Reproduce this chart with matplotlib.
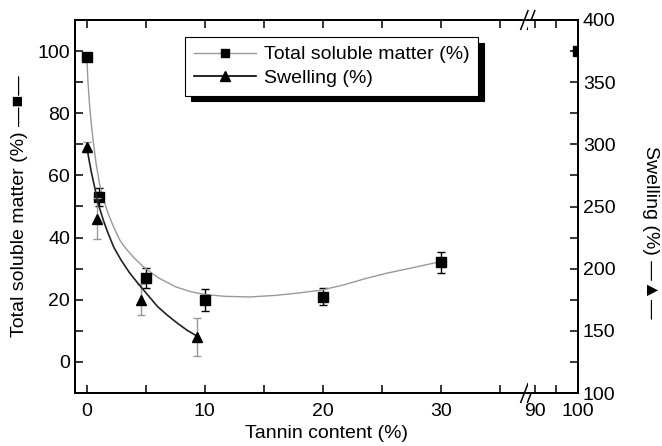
import numpy as np
import matplotlib
matplotlib.use('Agg')
import matplotlib.pyplot as plt
from matplotlib.ticker import MultipleLocator, FixedLocator

plt.rcParams['font.family'] = ['Liberation Sans', 'DejaVu Sans']
plt.rcParams['font.size'] = 14

# total soluble matter (%), left axis
tsm_x = [0, 1, 5, 10, 20, 30, 100]
tsm_y = [98, 53, 27, 20, 21, 32, 100]
tsm_err = [1, 3, 3.3, 3.6, 2.8, 3.4, 0]

# swelling (%), right axis
sw_x = [0, 0.9, 4.6, 9.3]
sw_y = [298, 240, 175, 145]
sw_err = [4, 16.5, 12.5, 15]

# fitted curves
tsm_fit_x = [0, 0.1, 0.25, 0.4, 0.53, 0.8, 1.1, 1.4, 1.8, 2.3, 2.8, 3.2, 4.0, 4.8, 6.0,
             7.5, 8.8, 10, 11.7, 13.8, 16, 18, 19.9, 21.8, 23.7, 25.5, 27.5, 29.9]
tsm_fit_y = [98, 90, 82, 76, 71.4, 63.5, 57, 52.5, 47.8, 43.2, 39.2, 37, 33.5, 30.6, 27.2,
             24.2, 22.6, 21.7, 21.1, 20.9, 21.4, 22.2, 23.1, 24.8, 26.9, 28.6, 30.2, 32.2]
sw_fit_x = [0, 0.2, 0.4, 0.7, 0.96, 1.4, 1.8, 2.3, 2.9, 3.6, 4.35, 5.2, 6.0, 6.9, 7.7, 8.5, 9.3]
sw_fit_y = [298, 287, 277, 264, 252.5, 239, 228.5, 217, 207, 197, 188, 178.5, 169.5, 162, 156, 150.5, 146]

fig = plt.figure(figsize=(6.62, 4.46), dpi=100)
x0, x1, x2 = 75 / 662, 528 / 662, 578 / 662
y0, y1 = 1 - 393 / 446, 1 - 20 / 446
ax1 = fig.add_axes([x0, y0, x1 - x0, y1 - y0])
ax2 = fig.add_axes([x1, y0, x2 - x1, y1 - y0])
ax1r = ax1.twinx()
ax2r = ax2.twinx()

for ax in (ax1, ax2):
    ax.errorbar(tsm_x, tsm_y, yerr=tsm_err, fmt='none', ecolor='black', elinewidth=1, capsize=3, capthick=1)
    ax.plot(tsm_x, tsm_y, 's', color='black', ms=6.5, zorder=5)
    ax.set_ylim(-10, 110)
ax1.plot(tsm_fit_x, tsm_fit_y, color='#999999', lw=1)

ax1r.errorbar(sw_x, sw_y, yerr=sw_err, fmt='none', ecolor='#999999', elinewidth=1, capsize=3, capthick=1)
ax1r.plot(sw_fit_x, sw_fit_y, color='#222222', lw=1.2)
ax1r.plot(sw_x, sw_y, '^', color='black', ms=7, zorder=5)
ax1r.set_ylim(100, 400)
ax2r.set_ylim(100, 400)

ax1.set_xlim(-1, 37.4)
ax2.set_xlim(88.4, 100)

ax1.spines['right'].set_visible(False)
ax1r.spines['right'].set_visible(False)
ax2.spines['left'].set_visible(False)
ax2r.spines['left'].set_visible(False)
for ax in (ax1, ax2, ax1r, ax2r):
    for s in ax.spines.values():
        s.set_linewidth(1.3)

ax1.xaxis.set_major_locator(FixedLocator([0, 10, 20, 30]))
ax1.xaxis.set_minor_locator(FixedLocator([5, 15, 25, 35]))
ax1.yaxis.set_major_locator(MultipleLocator(20))
ax1.yaxis.set_minor_locator(MultipleLocator(10))
ax1.set_ylim(-10, 110)
ax1.tick_params(which='both', direction='in', top=True, length=6, width=1.1)
ax1.tick_params(axis='x', which='major', pad=7)
ax1r.tick_params(right=False, labelright=False, which='both')

ax2.xaxis.set_major_locator(FixedLocator([90, 100]))
ax2.xaxis.set_minor_locator(FixedLocator([95]))
ax2.tick_params(which='both', direction='in', top=True, left=False, labelleft=False, length=6, width=1.1)
ax2.tick_params(axis='x', which='major', pad=7)
ax2r.yaxis.set_major_locator(MultipleLocator(50))
ax2r.yaxis.set_minor_locator(MultipleLocator(25))
ax2r.tick_params(which='both', direction='in', length=6, width=1.1)

# break marks at the right edge of the first panel
for yy in (0, 1):
    ax1.plot([0.988, 1.012], [yy, yy], color='white', lw=3, transform=ax1.transAxes,
             clip_on=False, zorder=9, solid_capstyle='butt')
    for dx in (0.992, 1.007):
        ax1.plot([dx - 0.008, dx + 0.008], [yy - 0.025, yy + 0.025], color='black', lw=1.1,
                 transform=ax1.transAxes, clip_on=False, zorder=10)

fig.text((x0 + x2) / 2, 0.01, 'Tannin content (%)', ha='center', va='bottom')
ax1.set_ylabel('Total soluble matter (%) \u2014\u25a0\u2014', labelpad=7)
ax2r.set_ylabel('Swelling (%) \u2014\u25b2\u2014', rotation=270, va='center')
ax2r.yaxis.set_label_coords(2.45, 0.43)

h1, = ax1.plot([], [], color='#999999', lw=1, marker='s', mfc='black', mec='black', ms=6)
h2, = ax1.plot([], [], color='black', lw=1.2, marker='^', mfc='black', mec='black', ms=6.5)
leg = ax1.legend([h1, h2], ['Total soluble matter (%)', 'Swelling (%)'],
                 loc='upper left', bbox_to_anchor=(185 / 662, 1 - 37 / 446),
                 bbox_transform=fig.transFigure, fancybox=False, framealpha=1,
                 edgecolor='black', borderaxespad=0, handlelength=3.2,
                 handletextpad=0.4, borderpad=0.45, labelspacing=0.3,
                 shadow={'color': 'black', 'alpha': 1, 'ox': 4, 'oy': -4})
leg.get_frame().set_linewidth(0.8)
leg.set_zorder(20)

fig.savefig('out.png', dpi=100)
